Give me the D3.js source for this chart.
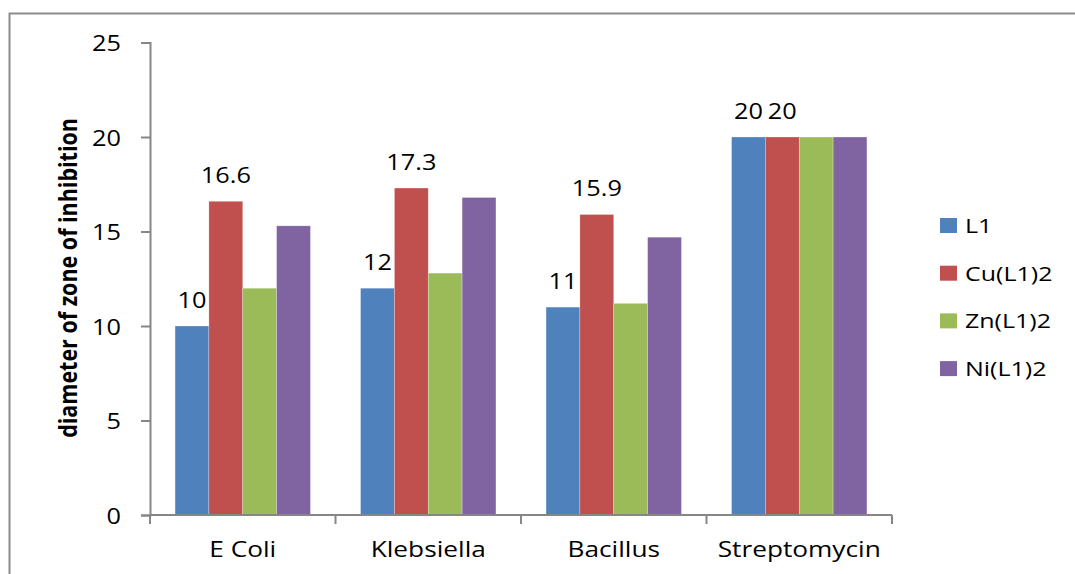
<!DOCTYPE html>
<html>
<head>
<meta charset="utf-8">
<script src="https://cdn.jsdelivr.net/npm/d3@7"></script>
<style>
  html, body { margin: 0; padding: 0; background: #fff; }
  svg { display: block; }
  text { font-family: "Open Sans", "Noto Sans", sans-serif; fill: #000; }
</style>
</head>
<body>
<svg id="chart" width="1075" height="574"></svg>
<script>
// Organisms tested and zone-of-inhibition diameters per compound
const categories = ["E Coli", "Klebsiella", "Bacillus", "Streptomycin"];
const seriesNames = ["L1", "Cu(L1)2", "Zn(L1)2", "Ni(L1)2"];
const L1 = [10, 12, 11, 20];
const CuL12 = [16.6, 17.3, 15.9, 20];
const ZnL12 = [12, 12.8, 11.2, 20];
const NiL12 = [15.3, 16.8, 14.7, 20];
const yTicks = [0, 5, 10, 15, 20, 25];
// only these series carry value labels
const labelledSeries = ["L1", "Cu(L1)2"];

const seriesValues = [L1, CuL12, ZnL12, NiL12];
const colors = ["#4F81BD", "#C0504D", "#9BBB59", "#8064A2"];

const svg = d3.select("#chart");
const sx = 1.15;      // horizontal glyph stretch for numbers
const sxLabel = 1.25; // horizontal glyph stretch for category / legend text

// outer frame
svg.append("path")
  .attr("d", "M9.5,574 L9.5,13.5 L1075,13.5")
  .attr("fill", "none").attr("stroke", "#8c8c8c").attr("stroke-width", 2);

const y = d3.scaleLinear().domain([0, 25]).range([515, 42.5]);
const x0 = d3.scaleBand().domain(categories).range([150, 892]).padding(0);
const x1 = d3.scaleBand().domain(seriesNames).range([0, x0.bandwidth()])
  .paddingInner(0).paddingOuter(0.74);

// bars
const groups = svg.append("g").selectAll("g")
  .data(categories).join("g")
  .attr("transform", d => `translate(${x0(d)},0)`);

groups.selectAll("rect")
  .data((c, ci) => seriesNames.map((s, si) => ({ s, si, v: seriesValues[si][ci] })))
  .join("rect")
  .attr("x", d => x1(d.s))
  .attr("y", d => y(d.v))
  .attr("width", x1.bandwidth())
  .attr("height", d => y(0) - y(d.v))
  .attr("fill", d => colors[d.si])
  .attr("stroke", "rgba(255,255,255,0.45)")
  .attr("stroke-width", 0.6);

// value labels
groups.selectAll("text.val")
  .data((c, ci) => seriesNames.map((s, si) => ({ s, si, v: seriesValues[si][ci] }))
    .filter(d => labelledSeries.includes(d.s)))
  .join("text")
  .attr("class", "val")
  .attr("transform", d => `translate(${x1(d.s) + x1.bandwidth() / 2},${y(d.v) - 18.5}) scale(${sx},1)`)
  .attr("text-anchor", "middle")
  .style("font-size", "22px")
  .text(d => d3.format("")(d.v));

// y axis
const yAxis = svg.append("g")
  .attr("transform", "translate(150,0)")
  .call(d3.axisLeft(y).tickValues(yTicks).tickSize(9).tickPadding(0).tickSizeOuter(9));
yAxis.select(".domain").attr("stroke", "#868686").attr("stroke-width", 2);
yAxis.selectAll(".tick line").attr("stroke", "#868686").attr("stroke-width", 2);
yAxis.selectAll(".tick text")
  .attr("x", null).attr("dy", null)
  .attr("transform", "translate(-29,8) scale(" + sx + ",1)")
  .attr("text-anchor", "end")
  .style("font-size", "22px")
  .style("font-family", '"Open Sans", sans-serif')
  .attr("fill", "#000");

// x axis with ticks at category boundaries
const xAxisG = svg.append("g").attr("transform", "translate(0,515)");
xAxisG.append("line")
  .attr("x1", 150).attr("x2", 892)
  .attr("stroke", "#868686").attr("stroke-width", 2);
const boundaries = categories.map(c => x0(c)).concat([x0(categories[categories.length - 1]) + x0.bandwidth()]);
xAxisG.selectAll("line.tk").data(boundaries).join("line")
  .attr("class", "tk")
  .attr("x1", d => d).attr("x2", d => d)
  .attr("y1", 0).attr("y2", 9)
  .attr("stroke", "#868686").attr("stroke-width", 2);
xAxisG.selectAll("text").data(categories).join("text")
  .attr("transform", d => `translate(${x0(d) + x0.bandwidth() / 2},42) scale(${sxLabel},1)`)
  .attr("text-anchor", "middle")
  .style("font-size", "21px")
  .text(d => d);

// y axis title
svg.append("text")
  .attr("transform", `translate(77,278) scale(${sx},1) rotate(-90)`)
  .attr("text-anchor", "middle")
  .style("font-size", "21.5px")
  .style("font-weight", "bold")
  .text("diameter of zone of inhibition");

// legend
const legend = svg.append("g").selectAll("g")
  .data(seriesNames).join("g")
  .attr("transform", (d, i) => `translate(940,${225.5 + i * 47.7})`);
legend.append("rect")
  .attr("x", 0).attr("y", -7.5).attr("width", 17).attr("height", 15)
  .attr("fill", (d, i) => colors[i]);
legend.append("text")
  .attr("transform", `translate(25,7.5) scale(${sxLabel},1)`)
  .style("font-size", "20px")
  .text(d => d);
</script>
</body>
</html>
